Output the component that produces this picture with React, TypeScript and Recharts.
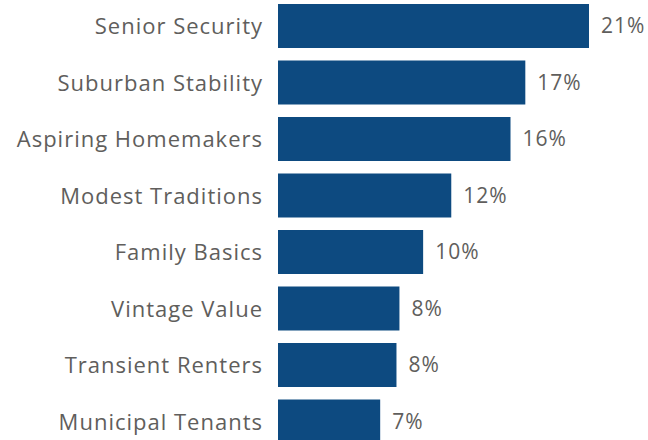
import { BarChart, Bar, XAxis, YAxis, LabelList } from "recharts";

const segments = [
  "Senior Security",
  "Suburban Stability",
  "Aspiring Homemakers",
  "Modest Traditions",
  "Family Basics",
  "Vintage Value",
  "Transient Renters",
  "Municipal Tenants",
];

const shares = [21.0, 16.7, 15.7, 11.7, 9.8, 8.2, 8.0, 6.9];

const chartData = segments.map((segment, i) => ({ segment, share: shares[i] }));

const textColor = "#605E5C";
const barColor = "#0D4A80";
const font = "'Open Sans', sans-serif";

export default function App() {
  return (
    <div style={{ position: "absolute", left: 0, top: -2 }}>
      <BarChart
        layout="vertical"
        width={648}
        height={452}
        data={chartData}
        margin={{ top: 0, right: 59, left: 0, bottom: 0 }}
        barSize={44}
      >
        <XAxis type="number" domain={[0, "dataMax"]} hide />
        <YAxis
          type="category"
          dataKey="segment"
          width={278}
          axisLine={false}
          tickLine={false}
          tickMargin={9}
          tick={{ fill: textColor, fontSize: 22, fontFamily: font, letterSpacing: 1 }}
        />
        <Bar dataKey="share" fill={barColor} isAnimationActive={false}>
          <LabelList
            dataKey="share"
            position="right"
            offset={12}
            formatter={(v: number) => `${Math.round(v)}%`}
            style={{ fill: textColor, fontSize: 21, fontFamily: font, letterSpacing: 1 }}
          />
        </Bar>
      </BarChart>
    </div>
  );
}
